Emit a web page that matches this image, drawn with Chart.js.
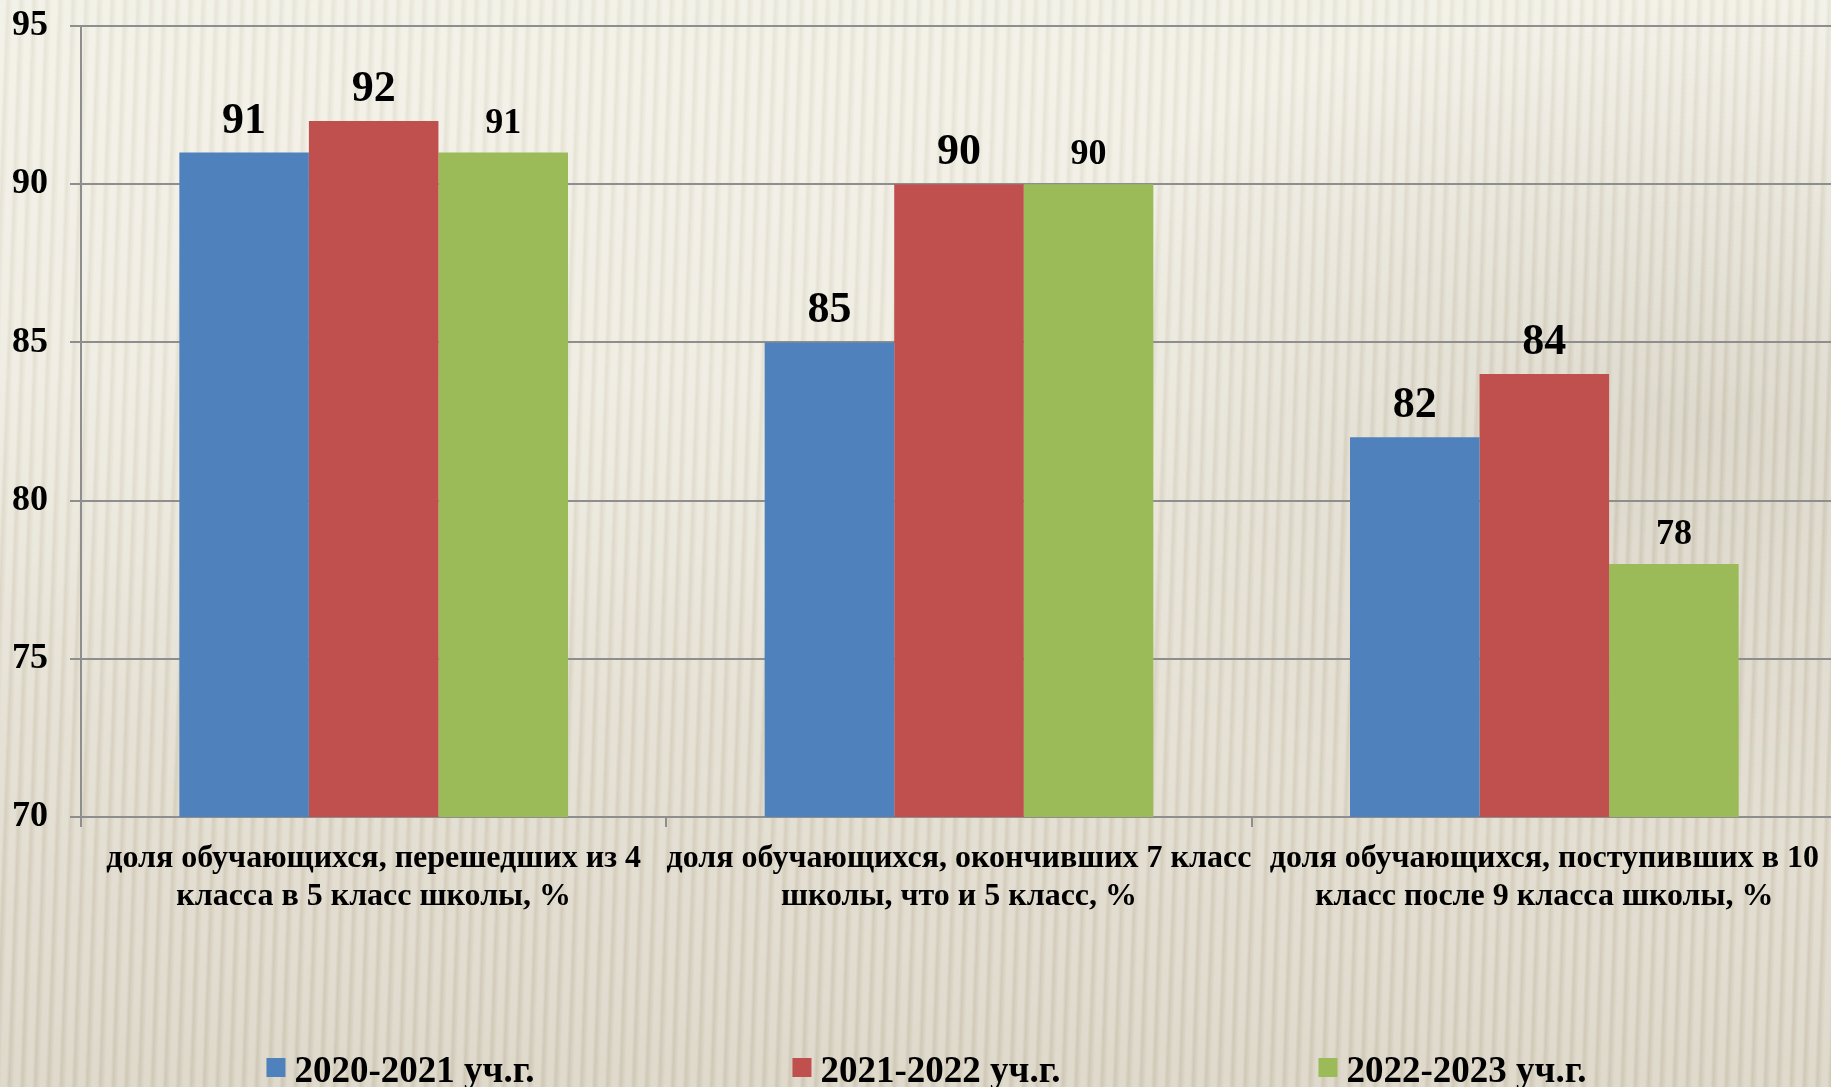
<!DOCTYPE html>
<html>
<head>
<meta charset="utf-8">
<script src="https://cdn.jsdelivr.net/npm/chart.js@4/dist/chart.umd.min.js"></script>
<style>
  html, body {
    margin: 0;
    padding: 0;
    overflow: hidden;
    width: 1831px;
    height: 1087px;
  }
  body {
    background:
      repeating-linear-gradient(92deg, rgba(255,255,255,0.22) 0px, rgba(255,255,255,0.22) 5px, rgba(120,105,80,0.07) 8px, rgba(255,255,255,0.22) 13px),
      radial-gradient(ellipse 700px 420px at 1700px 420px, rgba(170,160,140,0.35), rgba(170,160,140,0) 100%),
      linear-gradient(180deg, #f0eee3 0px, #ece9dc 380px, #e0dacb 700px, #d6cfbe 1087px);
  }
  #wrap {
    position: absolute;
    left: 0;
    top: 0;
    width: 1845px;
    height: 1087px;
  }
</style>
</head>
<body>
<div id="wrap"><canvas id="graph"></canvas></div>
<script>
"use strict";

const categories = [
  ["доля обучающихся, перешедших из 4", "класса в 5 класс школы, %"],
  ["доля обучающихся, окончивших 7 класс", "школы, что и 5 класс, %"],
  ["доля обучающихся, поступивших в 10", "класс после 9 класса школы, %"],
];
const seriesNames = ["2020-2021 уч.г.", "2021-2022 уч.г.", "2022-2023 уч.г."];
const values2021 = [91, 85, 82];
const values2022 = [92, 90, 84];
const values2023 = [91, 90, 78];
const yTicks = [70, 75, 80, 85, 90, 95];

const colors = ["#4F81BD", "#C0504D", "#9BBB59"];
const labelSizes = [44, 44, 36];
const fontFamily = "'Liberation Serif', 'Times New Roman', serif";
const gridColor = "#8e8e8e";

// value labels above each bar
const valueLabels = {
  id: "valueLabels",
  afterDatasetsDraw(chart) {
    const ctx = chart.ctx;
    ctx.save();
    ctx.fillStyle = "#000";
    ctx.textAlign = "center";
    ctx.textBaseline = "alphabetic";
    chart.data.datasets.forEach((ds, i) => {
      const meta = chart.getDatasetMeta(i);
      ctx.font = `bold ${labelSizes[i]}px ${fontFamily}`;
      meta.data.forEach((bar, j) => {
        ctx.fillText(String(ds.data[j]), bar.x, bar.y - 20);
      });
    });
    ctx.restore();
  },
};

// legend at the bottom, items spread wide like the original slide
const wideLegend = {
  id: "wideLegend",
  afterDraw(chart) {
    const ctx = chart.ctx;
    const step = 526;
    const box = 19;
    const cx = chart.width / 2;
    ctx.save();
    ctx.font = `bold 37px ${fontFamily}`;
    ctx.textBaseline = "alphabetic";
    ctx.textAlign = "left";
    chart.data.datasets.forEach((ds, i) => {
      const w = box + 9 + ctx.measureText(ds.label).width;
      const x = cx + (i - 1) * step - w / 2 + 4;
      ctx.fillStyle = ds.backgroundColor;
      ctx.fillRect(x, 1058, box, box);
      ctx.fillStyle = "#000";
      ctx.fillText(ds.label, x + box + 9, 1082);
    });
    ctx.restore();
  },
};

document.addEventListener("DOMContentLoaded", () => {
  const ctx = document.getElementById("graph").getContext("2d");
  const allSeries = [values2021, values2022, values2023];

  new Chart(ctx, {
    type: "bar",
    data: {
      labels: categories,
      datasets: allSeries.map((vals, i) => ({
        label: seriesNames[i],
        data: vals,
        backgroundColor: colors[i],
        borderWidth: 0,
        barPercentage: 1,
        categoryPercentage: 0.664,
      })),
    },
    options: {
      responsive: true,
      maintainAspectRatio: false,
      animation: false,
      layout: {
        padding: { top: 26, left: 12, right: 8, bottom: 0 },
      },
      plugins: {
        legend: { display: false },
        tooltip: { enabled: false },
      },
      scales: {
        x: {
          grid: {
            display: true,
            drawOnChartArea: false,
            drawTicks: true,
            tickLength: 10,
            color: gridColor,
            lineWidth: 2,
          },
          border: { display: true, color: gridColor, width: 2 },
          ticks: {
            color: "#000",
            padding: 13,
            maxRotation: 0,
            autoSkip: false,
            font: { family: fontFamily, size: 32, weight: "bold", lineHeight: 1.19 },
          },
          afterFit(scale) {
            scale.height = 270;
            scale.paddingLeft = 0;
            scale.paddingRight = 0;
          },
        },
        y: {
          min: 70,
          max: 95,
          afterBuildTicks(scale) {
            scale.ticks = yTicks.map((v) => ({ value: v }));
          },
          grid: {
            display: true,
            drawTicks: true,
            tickLength: 11,
            color: gridColor,
            lineWidth: 2,
          },
          border: { display: true, color: gridColor, width: 2 },
          ticks: {
            color: "#000",
            padding: 22,
            font: { family: fontFamily, size: 36, weight: "bold" },
          },
          afterFit(scale) {
            scale.width = 69;
            scale.paddingTop = 0;
            scale.paddingBottom = 0;
          },
        },
      },
    },
    plugins: [valueLabels, wideLegend],
  });
});
</script>
</body>
</html>
